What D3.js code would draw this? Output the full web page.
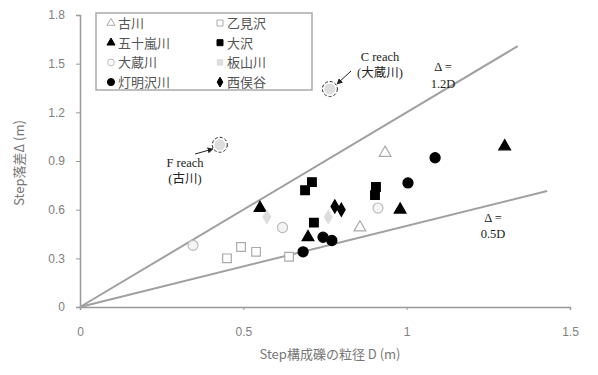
<!DOCTYPE html>
<html><head><meta charset="utf-8">
<script src="https://cdn.jsdelivr.net/npm/d3@7"></script>
<style>body{margin:0;background:#fff}</style>
</head><body>
<script>
const xTicks = [0, 0.5, 1, 1.5];
const yTicks = [0, 0.3, 0.6, 0.9, 1.2, 1.5, 1.8];
const seriesNames = ["古川","乙見沢","五十嵐川","大沢","大蔵川","板山川","灯明沢川","西俣谷"];
const furukawaD = [0.934, 0.857];
const furukawaH = [0.95, 0.49];
const otomiD = [0.45, 0.493, 0.539, 0.64];
const otomiH = [0.30, 0.37, 0.34, 0.31];
const igarashiD = [0.551, 0.698, 0.98, 1.30];
const igarashiH = [0.61, 0.43, 0.60, 0.99];
const osawaD = [0.71, 0.689, 0.716, 0.906, 0.903];
const osawaH = [0.77, 0.72, 0.52, 0.74, 0.69];
const okuraD = [0.346, 0.912, 0.62];
const okuraH = [0.38, 0.61, 0.49];
const itayamaD = [0.572, 0.76];
const itayamaH = [0.555, 0.555];
const tomyoD = [1.087, 1.004, 0.744, 0.771, 0.683];
const tomyoH = [0.92, 0.765, 0.43, 0.41, 0.34];
const nishiD = [0.78, 0.80];
const nishiH = [0.62, 0.60];
const highlightD = [0.428, 0.765];
const highlightH = [1.0, 1.344];
const lineCoef = [1.2, 0.5];
const lineEnd = [1.34, 1.43];

const W = 598, H = 375;
const svg = d3.select("body").append("svg").attr("width", W).attr("height", H);
const x = d3.scaleLinear().domain([0, 1.5]).range([80, 570]);
const y = d3.scaleLinear().domain([0, 1.8]).range([307, 15]);

const axisCol = "#999";
const xa = svg.append("g").attr("transform", "translate(0,307)")
  .call(d3.axisBottom(x).tickValues(xTicks).tickSize(3).tickPadding(17).tickFormat(d => d3.format("")(d)));
const ya = svg.append("g").attr("transform", "translate(80,0)")
  .call(d3.axisLeft(y).tickValues(yTicks).tickSize(4).tickPadding(11).tickFormat(d => d === 0 ? "0" : d3.format(".1f")(d)));
[xa, ya].forEach(a => {
  a.select(".domain").attr("stroke", axisCol).attr("stroke-width", 1.5);
  a.selectAll(".tick line").attr("stroke", axisCol);
  a.selectAll("text").attr("fill", "#808080").attr("font-family", "Liberation Sans, Arial").attr("font-size", 12);
});

// reference lines
lineCoef.forEach((c, i) => {
  svg.append("line").attr("x1", x(0)).attr("y1", y(0)).attr("x2", x(lineEnd[i])).attr("y2", y(c * lineEnd[i]))
    .attr("stroke", "#a0a0a0").attr("stroke-width", 2);
});

const g = svg.append("g");
const sym = {
  tri: d3.symbol().type(d3.symbolTriangle).size(60),
  sq: d3.symbol().type(d3.symbolSquare).size(75),
  circ: d3.symbol().type(d3.symbolCircle).size(80),
  dia: d3.symbol().type(d3.symbolDiamond).size(50)
};
const series = [
  {D: furukawaD, H: furukawaH, s: "tri", fill: "#fff", stroke: "#aaa"},
  {D: otomiD, H: otomiH, s: "sq", fill: "#fff", stroke: "#aaa"},
  {D: igarashiD, H: igarashiH, s: "tri", fill: "#000", stroke: "#000"},
  {D: osawaD, H: osawaH, s: "sq", fill: "#000", stroke: "#000"},
  {D: okuraD, H: okuraH, s: "circ", fill: "#f4f4f4", stroke: "#bbb"},
  {D: itayamaD, H: itayamaH, s: "dia", fill: "#ddd", stroke: "#ddd"},
  {D: tomyoD, H: tomyoH, s: "circ", fill: "#000", stroke: "#000"},
  {D: nishiD, H: nishiH, s: "dia", fill: "#000", stroke: "#000"}
];
series.forEach(se => {
  g.selectAll(null).data(se.D.map((d, i) => [d, se.H[i]])).enter().append("path")
    .attr("d", sym[se.s]).attr("transform", d => `translate(${x(d[0])},${y(d[1])})`)
    .attr("fill", se.fill).attr("stroke", se.stroke).attr("stroke-width", 1.2);
});
// highlighted reaches
highlightD.forEach((d, i) => {
  svg.append("circle").attr("cx", x(d)).attr("cy", y(highlightH[i])).attr("r", 5.5).attr("fill", "#ddd");
  svg.append("circle").attr("cx", x(d)).attr("cy", y(highlightH[i])).attr("r", 7.5).attr("fill", "none")
    .attr("stroke", "#222").attr("stroke-width", 1).attr("stroke-dasharray", "3,2");
});

// legend
svg.append("rect").attr("x", 96).attr("y", 13).attr("width", 216).attr("height", 77)
  .attr("fill", "#fff").attr("stroke", "#aaa").attr("stroke-width", 1.5);
const legSym = [
  {s: d3.symbol().type(d3.symbolTriangle).size(28), fill: "#fff", stroke: "#aaa"},
  {s: d3.symbol().type(d3.symbolSquare).size(36), fill: "#fff", stroke: "#aaa"},
  {s: d3.symbol().type(d3.symbolTriangle).size(28), fill: "#000", stroke: "#000"},
  {s: d3.symbol().type(d3.symbolSquare).size(36), fill: "#000", stroke: "#000"},
  {s: d3.symbol().type(d3.symbolCircle).size(36), fill: "#fff", stroke: "#bbb"},
  {s: d3.symbol().type(d3.symbolSquare).size(30), fill: "#ddd", stroke: "#ddd"},
  {s: d3.symbol().type(d3.symbolCircle).size(40), fill: "#000", stroke: "#000"},
  {s: d3.symbol().type(d3.symbolDiamond).size(28), fill: "#000", stroke: "#000"}
];
seriesNames.forEach((n, i) => {
  const col = i % 2, row = Math.floor(i / 2);
  const sx = col ? 220 : 111, sy = 23 + row * 19.7;
  svg.append("path").attr("d", legSym[i].s).attr("transform", `translate(${sx},${sy})`)
    .attr("fill", legSym[i].fill).attr("stroke", legSym[i].stroke);
  svg.append("text").attr("x", sx + 7).attr("y", sy + 5).text(n)
    .attr("font-family", "Noto Sans CJK JP").attr("font-size", 13).attr("fill", "#555");
});

// axis titles
svg.append("text").attr("x", 330).attr("y", 359).attr("text-anchor", "middle")
  .attr("font-family", "Noto Sans CJK JP, Liberation Sans").attr("font-size", 13).attr("fill", "#777")
  .text("Step構成礫の粒径 D (m)");
svg.append("text").attr("transform", "translate(24,163) rotate(-90)").attr("text-anchor", "middle")
  .attr("font-family", "Noto Sans CJK JP, Liberation Sans").attr("font-size", 13).attr("fill", "#777")
  .text("Step落差Δ (m)");

// annotations
const serif = "Liberation Serif, Times New Roman";
function txt(t, xx, yy, fam) {
  svg.append("text").attr("x", xx).attr("y", yy).attr("text-anchor", "middle")
    .attr("font-family", fam).attr("font-size", 12.5).attr("fill", "#222").text(t);
}
txt("C reach", 380, 61, serif);
txt("(大蔵川)", 380, 77, serif + ", Noto Sans CJK JP");
txt("F reach", 185, 167, serif);
txt("(古川)", 185, 183, serif + ", Noto Sans CJK JP");
txt("Δ =", 443, 71, serif);
txt("1.2D", 443, 88, serif);
txt("Δ =", 493, 222, serif);
txt("0.5D", 493, 238, serif);

svg.append("defs").append("marker").attr("id", "ah").attr("viewBox", "0 0 10 10").attr("refX", 9).attr("refY", 5)
  .attr("markerWidth", 6).attr("markerHeight", 6).attr("orient", "auto")
  .append("path").attr("d", "M0,0L10,5L0,10z").attr("fill", "#222");
svg.append("line").attr("x1", 351).attr("y1", 71).attr("x2", 337).attr("y2", 84)
  .attr("stroke", "#222").attr("stroke-width", 1).attr("marker-end", "url(#ah)");
svg.append("line").attr("x1", 195).attr("y1", 154).attr("x2", 213).attr("y2", 149)
  .attr("stroke", "#222").attr("stroke-width", 1).attr("marker-end", "url(#ah)");
</script>
</body></html>
